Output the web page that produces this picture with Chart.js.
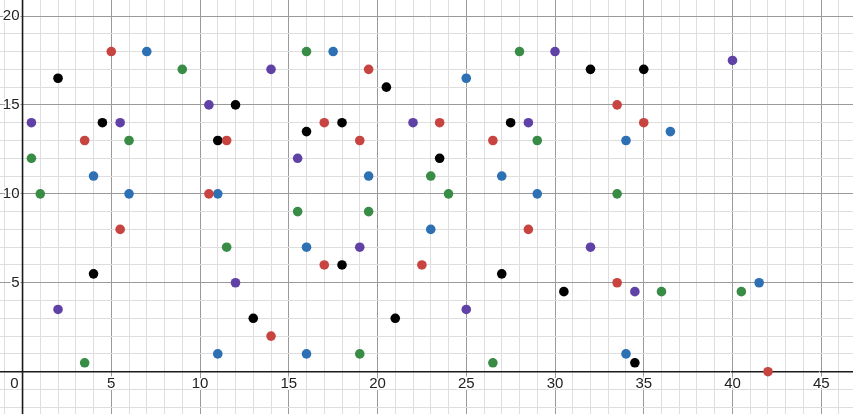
<!DOCTYPE html>
<html>
<head>
<meta charset="utf-8">
<script src="https://cdn.jsdelivr.net/npm/chart.js@4.4.1/dist/chart.umd.min.js"></script>
<style>
    html, body { margin: 0; padding: 0; background: #fff; }
    #plot { display: block; }
</style>
</head>
<body>
<canvas id="plot" width="853" height="414"></canvas>
<script>
// point data per colour, [x, y]
const redPoints = [[3.5, 13], [5, 18], [10.5, 10], [11.5, 13], [5.5, 8], [14, 2], [17, 14], [19, 13], [19.5, 17],
    [17, 6], [22.5, 6], [23.5, 14], [26.5, 13], [28.5, 8], [33.5, 15], [35, 14], [33.5, 5], [42, 0]];
const bluePoints = [[4, 11], [6, 10], [7, 18], [11, 10], [11, 1], [16, 7], [16, 1], [17.5, 18], [19.5, 11], [23, 8],
    [25, 16.5], [27, 11], [29, 10], [34, 13], [36.5, 13.5], [34, 1], [41.5, 5]];
const greenPoints = [[0.5, 12], [1, 10], [3.5, 0.5], [6, 13], [9, 17], [11.5, 7], [15.5, 9], [16, 18], [19.5, 9],
    [19, 1], [23, 11], [24, 10], [26.5, 0.5], [28, 18], [29, 13], [33.5, 10], [36, 4.5], [40.5, 4.5]];
const purplePoints = [[0.5, 14], [2, 3.5], [5.5, 14], [10.5, 15], [12, 5], [14, 17], [15.5, 12], [19, 7], [22, 14],
    [25, 3.5], [28.5, 14], [30, 18], [32, 7], [34.5, 4.5], [40, 17.5]];
const blackPoints = [[2, 16.5], [4, 5.5], [4.5, 14], [11, 13], [12, 15], [13, 3], [16, 13.5], [18, 14], [18, 6],
    [20.5, 16], [21, 3], [23.5, 12], [27.5, 14], [27, 5.5], [30.5, 4.5], [32, 17], [35, 17], [34.5, 0.5]];

const xTickLabels = [5, 10, 15, 20, 25, 30, 35, 40, 45];
const yTickLabels = [5, 10, 15, 20];

const toXY = arr => arr.map(p => ({ x: p[0], y: p[1] }));

const series = [
    { pts: redPoints, color: '#c74440' },
    { pts: bluePoints, color: '#2d70b3' },
    { pts: greenPoints, color: '#388c46' },
    { pts: purplePoints, color: '#6042a6' },
    { pts: blackPoints, color: '#000000' }
];

const gridColor = ctx => {
    const v = ctx.tick ? ctx.tick.value : 1;
    if (v === 0) return 'rgba(0,0,0,0)';
    return v % 5 === 0 ? '#9a9a9a' : '#dedede';
};

const integerTicks = axis => {
    const out = [];
    for (let v = Math.ceil(axis.min); v <= Math.floor(axis.max); v++) out.push({ value: v });
    axis.ticks = out;
};

// axes through the origin plus Desmos style labels
const axisPlugin = {
    id: 'desmosAxes',
    beforeDatasetsDraw(chart) {
        const { ctx, scales: { x, y }, chartArea } = chart;
        const x0 = x.getPixelForValue(0);
        const y0 = y.getPixelForValue(0);
        ctx.save();
        ctx.strokeStyle = '#1a1a1a';
        ctx.lineWidth = 1.6;
        ctx.beginPath();
        ctx.moveTo(chartArea.left, y0);
        ctx.lineTo(chartArea.right, y0);
        ctx.moveTo(x0, chartArea.top);
        ctx.lineTo(x0, chartArea.bottom);
        ctx.stroke();

        ctx.font = '15px "Liberation Sans", Arial, sans-serif';
        ctx.fillStyle = '#222';
        ctx.lineWidth = 3;
        ctx.strokeStyle = '#fff';
        ctx.textBaseline = 'middle';

        ctx.textAlign = 'center';
        xTickLabels.forEach(v => {
            const px = x.getPixelForValue(v);
            ctx.strokeText(String(v), px, y0 + 12);
            ctx.fillText(String(v), px, y0 + 12);
        });
        ctx.textAlign = 'right';
        yTickLabels.forEach(v => {
            const py = y.getPixelForValue(v);
            ctx.strokeText(String(v), x0 - 3, py);
            ctx.fillText(String(v), x0 - 3, py);
        });
        ctx.strokeText('0', x0 - 4, y0 + 12);
        ctx.fillText('0', x0 - 4, y0 + 12);
        ctx.restore();
    }
};

new Chart(document.getElementById('plot'), {
    type: 'scatter',
    data: {
        datasets: series.map(s => ({
            data: toXY(s.pts),
            backgroundColor: s.color,
            borderColor: s.color,
            borderWidth: 0,
            pointRadius: 4.8,
            pointHoverRadius: 4.8
        }))
    },
    options: {
        responsive: false,
        animation: false,
        layout: { padding: 0, autoPadding: false },
        plugins: { legend: { display: false }, tooltip: { enabled: false } },
        scales: {
            x: {
                type: 'linear',
                min: -1.27,
                max: 46.79,
                afterBuildTicks: integerTicks,
                ticks: { display: false },
                border: { display: false },
                grid: { color: gridColor, lineWidth: 1, drawTicks: false }
            },
            y: {
                type: 'linear',
                min: -2.38,
                max: 20.9,
                afterBuildTicks: integerTicks,
                ticks: { display: false },
                border: { display: false },
                grid: { color: gridColor, lineWidth: 1, drawTicks: false }
            }
        }
    },
    plugins: [axisPlugin]
});
</script>
</body>
</html>
